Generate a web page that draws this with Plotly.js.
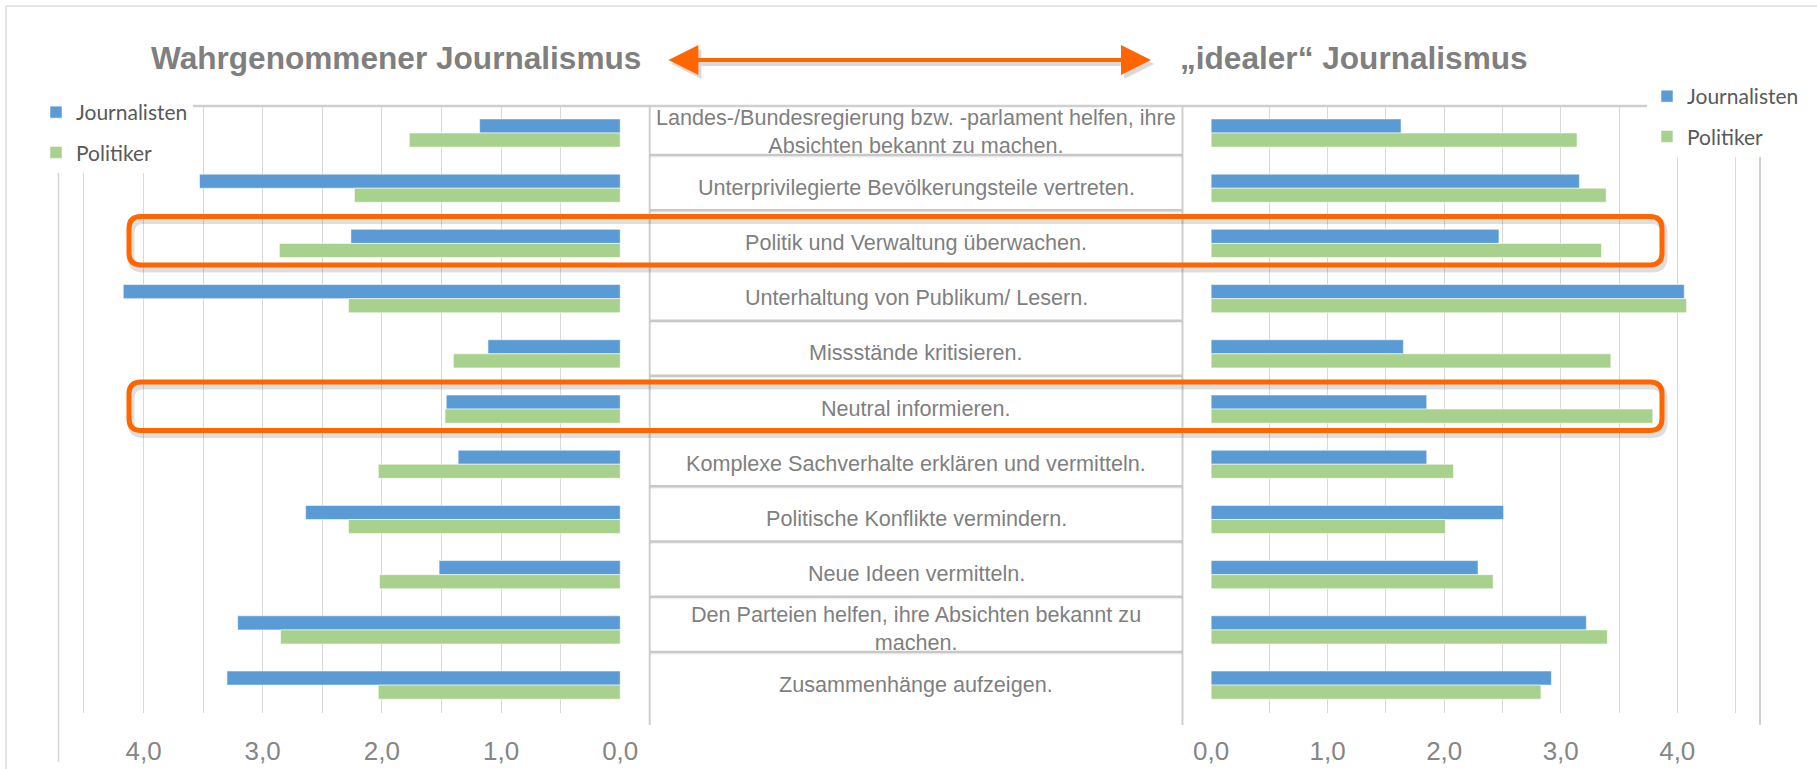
<!DOCTYPE html>
<html><head><meta charset="utf-8">
<script src="https://cdn.plot.ly/plotly-3.0.1.min.js"></script>
<style>html,body{margin:0;padding:0;background:#fff;}#chart{width:1817px;height:769px;}</style>
</head><body><div id="chart"></div>
<script>
// ---------- data ----------
const categories = [
  "Landes-/Bundesregierung bzw. -parlament helfen, ihre<br>Absichten bekannt zu machen.",
  "Unterprivilegierte Bevölkerungsteile vertreten.",
  "Politik und Verwaltung überwachen.",
  "Unterhaltung von Publikum/ Lesern.",
  "Missstände kritisieren.",
  "Neutral informieren.",
  "Komplexe Sachverhalte erklären und vermitteln.",
  "Politische Konflikte vermindern.",
  "Neue Ideen vermitteln.",
  "Den Parteien helfen, ihre Absichten bekannt zu<br>machen.",
  "Zusammenhänge aufzeigen."
];
const perceivedJournalisten = [1.18, 3.53, 2.26, 4.17, 1.11, 1.46, 1.36, 2.64, 1.52, 3.21, 3.30];
const perceivedPolitiker    = [1.77, 2.23, 2.86, 2.28, 1.40, 1.47, 2.03, 2.28, 2.02, 2.85, 2.03];
const idealJournalisten     = [1.63, 3.16, 2.47, 4.06, 1.65, 1.85, 1.85, 2.51, 2.29, 3.22, 2.92];
const idealPolitiker        = [3.14, 3.39, 3.35, 4.08, 3.43, 3.79, 2.08, 2.01, 2.42, 3.40, 2.83];
const seriesNames = ["Journalisten", "Politiker"];
const panelTitles = ["Wahrgenommener Journalismus", "„idealer“ Journalismus"];
const highlightedCategories = ["Politik und Verwaltung überwachen.", "Neutral informieren."];
const tickValues = [0, 0.5, 1, 1.5, 2, 2.5, 3, 3.5, 4, 4.5];
const tickLabels = ["0,0", "", "1,0", "", "2,0", "", "3,0", "", "4,0", ""];

// ---------- layout helpers ----------
const W = 1817, H = 769;
const px = x => x / W;
const py = y => 1 - y / H;
const BLUE = "#5B9BD5", GREEN = "#A9D18E", ORANGE = "#FF6600";
const GRID = "#d9d9d9", FRAME = "#cfcfcf", TXT = "#7f7f7f";
const plotTop = 105.4, plotBottom = 712.7;
const rowH = (plotBottom - plotTop) / categories.length;
const rowCenter = i => plotTop + (i + 0.5) * rowH;
const FONT = "Liberation Sans, Arial, sans-serif";

const barLine = {color: "rgba(255,255,255,0.55)", width: 1};
const traces = [
  {name: seriesNames[0], x: perceivedJournalisten, color: BLUE, xa: "x", lg: "legend", g: "a"},
  {name: seriesNames[1], x: perceivedPolitiker, color: GREEN, xa: "x", lg: "legend", g: "b"},
  {name: seriesNames[0], x: idealJournalisten, color: BLUE, xa: "x2", lg: "legend2", g: "c"},
  {name: seriesNames[1], x: idealPolitiker, color: GREEN, xa: "x2", lg: "legend2", g: "d"}
].map(t => ({
  type: "bar", orientation: "h", name: t.name, x: t.x, y: categories,
  xaxis: t.xa, yaxis: "y", legend: t.lg, legendgroup: t.g,
  marker: {color: t.color, line: barLine}, hoverinfo: "skip"
}));

const axisCommon = {
  tickvals: tickValues, ticktext: tickLabels, showgrid: true, gridcolor: GRID, gridwidth: 1,
  zeroline: false, showline: false, ticks: "", ticklabelstandoff: 20,
  tickfont: {family: FONT, size: 26, color: "#868686"}, fixedrange: true, anchor: "y"
};

const shapes = [];
const line = (x0, y0, x1, y1, color, width) => shapes.push({
  type: "line", xref: "paper", yref: "paper", x0: px(x0), y0: py(y0), x1: px(x1), y1: py(y1),
  line: {color: color, width: width}, layer: "above"
});
// outer frame
line(6, 6, W, 6, "#dcdcdc", 1.5);
line(6, 6, 6, H, "#dcdcdc", 1.5);
// chart frames
line(40, 106, 1800, 106, FRAME, 2.5);
line(58.5, 106, 58.5, 762, "#d6d6d6", 1.5);
line(649.7, 106, 649.7, 725, FRAME, 2);
line(1182.5, 106, 1182.5, 725, FRAME, 2);
line(1760, 106, 1760, 725, FRAME, 2);
// row separators in centre table
for (let i = 0; i < categories.length - 1; i++) {
  const y = rowCenter(i) + 22;
  line(649.7, y + 1.5, 1182.5, y + 1.5, "rgba(0,0,0,0.06)", 2);
  line(649.7, y, 1182.5, y, "#c8c8c8", 2.5);
}
// highlight boxes
function roundRect(x0, y0, x1, y1, r) {
  const X = px, Y = py;
  return `M${X(x0 + r)},${Y(y0)} L${X(x1 - r)},${Y(y0)} Q${X(x1)},${Y(y0)} ${X(x1)},${Y(y0 + r)} ` +
         `L${X(x1)},${Y(y1 - r)} Q${X(x1)},${Y(y1)} ${X(x1 - r)},${Y(y1)} L${X(x0 + r)},${Y(y1)} ` +
         `Q${X(x0)},${Y(y1)} ${X(x0)},${Y(y1 - r)} L${X(x0)},${Y(y0 + r)} Q${X(x0)},${Y(y0)} ${X(x0 + r)},${Y(y0)} Z`;
}
highlightedCategories.forEach(name => {
  const i = categories.indexOf(name);
  const c = rowCenter(i);
  const x0 = 129, x1 = 1662, y0 = c - 27, y1 = c + 21.5;
  shapes.push({type: "path", xref: "paper", yref: "paper", path: roundRect(x0 + 2, y0 + 4, x1 + 2, y1 + 4, 12),
               line: {color: "rgba(0,0,0,0.13)", width: 7}, layer: "above"});
  shapes.push({type: "path", xref: "paper", yref: "paper", path: roundRect(x0, y0, x1, y1, 12),
               line: {color: ORANGE, width: 5}, layer: "above"});
});

const annotations = [];
// category labels in the centre table
categories.forEach((c, i) => annotations.push({
  xref: "paper", yref: "y", x: px(916), y: i, text: c, showarrow: false,
  xanchor: "center", yanchor: "middle", yshift: 1,
  font: {family: FONT, size: 21.6, color: TXT}
}));
// panel titles
annotations.push({xref: "paper", yref: "paper", x: px(396), y: py(58), text: "<b>" + panelTitles[0] + "</b>",
  showarrow: false, xanchor: "center", yanchor: "middle", font: {family: FONT, size: 31.6, color: TXT}});
annotations.push({xref: "paper", yref: "paper", x: px(1354), y: py(58), text: "<b>" + panelTitles[1] + "</b>",
  showarrow: false, xanchor: "center", yanchor: "middle", font: {family: FONT, size: 31.6, color: TXT}});
// double arrow (shadow + arrow)
[[3, 4, "rgba(0,0,0,0.15)"], [0, 0, ORANGE]].forEach(([dx, dy, col]) => annotations.push({
  xref: "paper", yref: "paper", axref: "paper", ayref: "paper",
  x: px(1151 + dx), y: py(60 + dy), ax: px(667 + dx), ay: py(60 + dy), text: "",
  showarrow: true, arrowside: "end+start", arrowhead: 2, startarrowhead: 2,
  arrowsize: 1.5, startarrowsize: 1.5, arrowwidth: 4, arrowcolor: col, standoff: 0, startstandoff: 0
}));

const legendCommon = {
  xanchor: "left", yanchor: "top", bgcolor: "#ffffff", borderwidth: 0,
  font: {family: "Lato, sans-serif", size: 21, color: "#595959"},
  tracegroupgap: 10, traceorder: "grouped", orientation: "v"
};

const layout = {
  width: W, height: H, margin: {l: 0, r: 0, t: 0, b: 0},
  paper_bgcolor: "#fff", plot_bgcolor: "rgba(0,0,0,0)",
  barmode: "group", bargap: 0.49, bargroupgap: 0,
  showlegend: true,
  xaxis: Object.assign({}, axisCommon, {domain: [px(58.9), px(620.6)], range: [4.71, -0.003]}),
  xaxis2: Object.assign({}, axisCommon, {domain: [px(1210.8), px(1760)], range: [-0.003, 4.71]}),
  yaxis: {type: "category", domain: [py(plotBottom), py(plotTop)], range: [categories.length - 0.5, -0.5],
          showticklabels: false, showgrid: false, zeroline: false, showline: false, ticks: "", fixedrange: true},
  legend: Object.assign({}, legendCommon, {x: px(36), y: py(92)}),
  legend2: Object.assign({}, legendCommon, {x: px(1647), y: py(76)}),
  shapes: shapes, annotations: annotations
};

Plotly.newPlot("chart", traces, layout, {displayModeBar: false, staticPlot: true});
</script></body></html>
